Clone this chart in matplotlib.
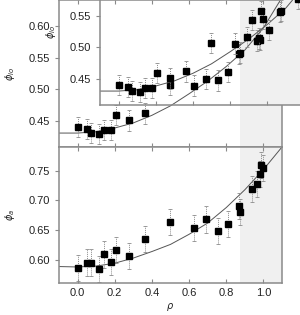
import numpy as np
import matplotlib
matplotlib.use("Agg")
import matplotlib.pyplot as plt

plt.rcParams['font.family'] = ['Liberation Sans', 'DejaVu Sans']
plt.rcParams['mathtext.fontset'] = 'dejavusans'

# donnees
rho = [0.0, 0.052, 0.073, 0.113, 0.143, 0.179, 0.205, 0.277, 0.361, 0.497, 0.627,
       0.692, 0.758, 0.812, 0.869, 0.876, 0.937, 0.967, 0.981, 0.987, 0.996]
phi_io = [0.440, 0.437, 0.431, 0.429, 0.436, 0.436, 0.459, 0.451, 0.462, 0.507, 0.506,
          0.516, 0.514, 0.527, 0.556, 0.558, 0.609, 0.577, 0.578, 0.623, 0.611]
phi_a = [0.5865, 0.5955, 0.5955, 0.584, 0.609, 0.596, 0.616, 0.607, 0.635, 0.664, 0.653,
         0.668, 0.648, 0.660, 0.691, 0.680, 0.720, 0.728, 0.744, 0.759, 0.755]
err_io = 0.016
err_a = 0.022

# courbes d'ajustement
rho_fit = [-0.1, 0.0, 0.1, 0.2, 0.3, 0.4, 0.5, 0.6, 0.7, 0.8, 0.9, 1.0, 1.1]
fit_io = [0.431, 0.431, 0.433, 0.439, 0.447, 0.459, 0.474, 0.493, 0.513, 0.536, 0.562, 0.597, 0.645]
fit_a = [0.5887, 0.588, 0.5895, 0.5944, 0.603, 0.614, 0.626, 0.643, 0.662, 0.688, 0.718, 0.752, 0.790]

shade = (0.874, 1.1)
xticks = [0.0, 0.2, 0.4, 0.6, 0.8, 1.0]

spine_col = '#8a8a8a'
text_col = '#222222'


def style(ax, ylim, yticks, label):
    ax.set_xlim(-0.1, 1.1)
    ax.set_ylim(*ylim)
    ax.set_xticks(xticks)
    ax.set_yticks(yticks)
    ax.yaxis.set_major_formatter(matplotlib.ticker.FormatStrFormatter('%.2f'))
    ax.xaxis.set_major_formatter(matplotlib.ticker.FormatStrFormatter('%.1f'))
    for s in ax.spines.values():
        s.set_color(spine_col)
        s.set_linewidth(1.1)
    ax.tick_params(axis='x', direction='in', top=True, length=3, color=spine_col,
                   labelsize=8, labelcolor=text_col)
    ax.tick_params(axis='y', direction='out', length=3, color=spine_col,
                   labelsize=8, labelcolor=text_col)
    ax.set_ylabel(label, fontsize=7, color=text_col)
    ax.yaxis.set_label_coords(-0.19, 0.5)


def draw(ax, y, err, fit):
    ax.axvspan(shade[0], shade[1], color='#f0f0f0', lw=0, zorder=0)
    ax.plot(rho_fit, fit, color='#555555', lw=0.7, zorder=2)
    eb = ax.errorbar(rho, y, yerr=err, fmt='none', ecolor='#8c8c8c', elinewidth=0.7,
                     capsize=1.2, capthick=0.6, zorder=3)
    eb[2][0].set_linestyle((0, (1, 1)))
    ax.plot(rho, y, 's', color='black', ms=5, zorder=4)


fig = plt.figure(figsize=(3.0, 3.15), dpi=100)

w = 223 / 300
h_top = 147 / 315
ax1 = fig.add_axes([59 / 300, 168 / 315, w, h_top])
draw(ax1, phi_io, err_io, fit_io)
style(ax1, (0.409, 0.641), [0.45, 0.50, 0.55, 0.60], r'$\phi_{io}$')
ax1.tick_params(axis='x', labelbottom=False)

# copie decalee du panneau du haut
ax_in = fig.add_axes([100 / 300, 210 / 315, w, h_top])
ax_in.set_facecolor('none')
draw(ax_in, phi_io, err_io, fit_io)
style(ax_in, (0.409, 0.641), [0.45, 0.50, 0.55], r'$\phi_{io}$')
ax_in.tick_params(axis='x', labelbottom=False)

ax2 = fig.add_axes([59 / 300, 32 / 315, w, 136 / 315])
draw(ax2, phi_a, err_a, fit_a)
style(ax2, (0.561, 0.790), [0.60, 0.65, 0.70, 0.75], r'$\phi_a$')
ax2.set_xlabel(r'$\rho$', fontsize=7, color=text_col, labelpad=2)

fig.savefig('out.png', dpi=100)
